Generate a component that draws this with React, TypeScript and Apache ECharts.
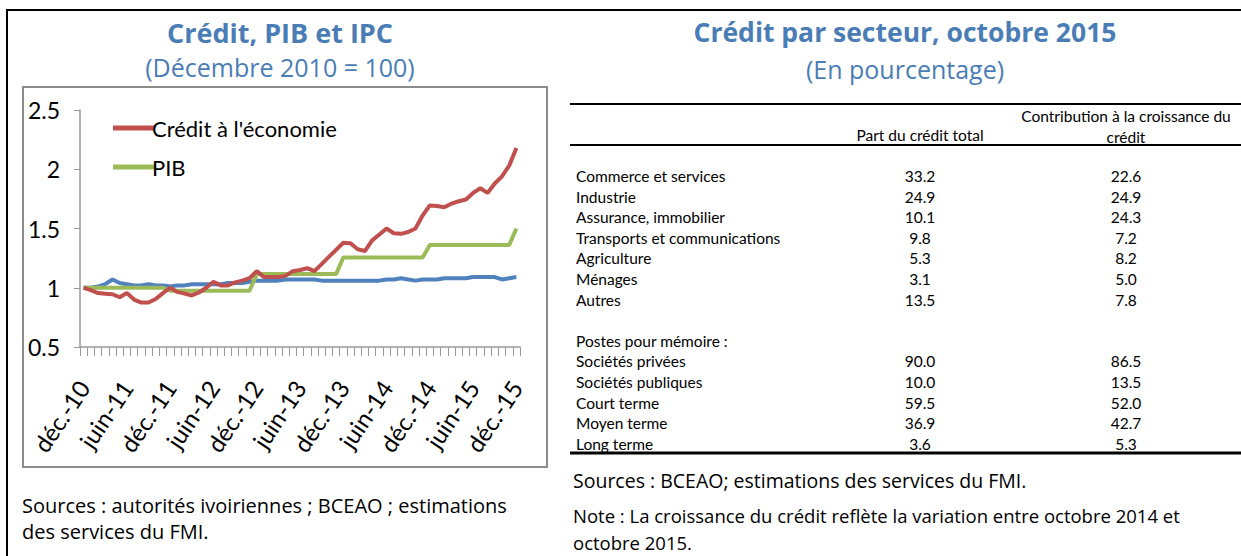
import React, { useEffect, useRef } from "react";
import * as echarts from "echarts";

// ---------- Chart data ----------
const monthNames = ["janv.", "févr.", "mars", "avr.", "mai", "juin", "juil.", "août", "sept.", "oct.", "nov.", "déc."];
const categories: string[] = ["déc.-10"];
for (const yy of ["11", "12", "13", "14", "15"]) {
  for (const m of monthNames) categories.push(`${m}-${yy}`);
}

const credit = [
  1.0, 0.98, 0.955, 0.95, 0.945, 0.92, 0.955, 0.9, 0.875, 0.875, 0.905, 0.955,
  1.0, 0.965, 0.95, 0.935, 0.96, 1.0, 1.05, 1.02, 1.02, 1.045, 1.06, 1.08,
  1.14, 1.09, 1.09, 1.09, 1.1, 1.14, 1.15, 1.165, 1.14, 1.2, 1.26, 1.32,
  1.38, 1.375, 1.325, 1.31, 1.4, 1.45, 1.5, 1.46, 1.455, 1.47, 1.5, 1.61,
  1.695, 1.69, 1.68, 1.71, 1.73, 1.745, 1.8, 1.84, 1.8, 1.88, 1.94, 2.03,
  2.18,
];

const pib = [
  1.0, 1.0, 1.0, 1.0, 1.0, 1.0, 1.0, 1.0, 1.0, 1.0, 1.0, 1.0,
  0.975, 0.975, 0.975, 0.975, 0.975, 0.975, 0.975, 0.975, 0.975, 0.975, 0.975, 0.975,
  1.115, 1.115, 1.115, 1.115, 1.115, 1.115, 1.115, 1.115, 1.115, 1.115, 1.115, 1.115,
  1.255, 1.255, 1.255, 1.255, 1.255, 1.255, 1.255, 1.255, 1.255, 1.255, 1.255, 1.255,
  1.36, 1.36, 1.36, 1.36, 1.36, 1.36, 1.36, 1.36, 1.36, 1.36, 1.36, 1.36,
  1.5,
];

const ipc = [
  1.0, 1.0, 1.01, 1.03, 1.07, 1.04, 1.03, 1.02, 1.02, 1.03, 1.02, 1.02,
  1.01, 1.02, 1.02, 1.03, 1.03, 1.03, 1.03, 1.03, 1.04, 1.04, 1.04, 1.05,
  1.06, 1.06, 1.06, 1.06, 1.07, 1.07, 1.07, 1.07, 1.07, 1.06, 1.06, 1.06,
  1.06, 1.06, 1.06, 1.06, 1.06, 1.06, 1.07, 1.07, 1.08, 1.07, 1.06, 1.07,
  1.07, 1.07, 1.08, 1.08, 1.08, 1.08, 1.09, 1.09, 1.09, 1.09, 1.07, 1.08,
  1.09,
];

const yTicks = { min: 0.5, max: 2.5, interval: 0.5 };

// ---------- Table data ----------
const colHeaders = ["Part du crédit total", "Contribution à la croissance du", "crédit"];
const sectorLabels = [
  "Commerce et services",
  "Industrie",
  "Assurance, immobilier",
  "Transports et communications",
  "Agriculture",
  "Ménages",
  "Autres",
];
const sectorPart = ["33.2", "24.9", "10.1", "9.8", "5.3", "3.1", "13.5"];
const sectorContrib = ["22.6", "24.9", "24.3", "7.2", "8.2", "5.0", "7.8"];
const memoTitle = "Postes pour mémoire :";
const memoLabels = ["Sociétés privées", "Sociétés publiques", "Court terme", "Moyen terme", "Long terme"];
const memoPart = ["90.0", "10.0", "59.5", "36.9", "3.6"];
const memoContrib = ["86.5", "13.5", "52.0", "42.7", "5.3"];

const titleColor = "#4a7db5";
const FONT = "Lato, 'Open Sans', sans-serif";
const FONT2 = "'Open Sans', Lato, sans-serif";

function txt(text: string, x: number, y: number, size: number, opts: any = {}) {
  return {
    type: "text",
    silent: true,
    style: {
      text,
      x,
      y,
      fontSize: size,
      fontFamily: opts.family || FONT,
      fontWeight: opts.weight || "normal",
      fill: opts.fill || "#000",
      textAlign: opts.align || "left",
      align: opts.align || "left",
      textVerticalAlign: "middle",
      verticalAlign: "middle",
    },
  };
}

export default function App() {
  const ref = useRef<HTMLDivElement>(null);

  useEffect(() => {
    if (!ref.current) return;
    const chart = echarts.init(ref.current, undefined, { renderer: "svg" });

    const graphics: any[] = [];
    // outer frame
    graphics.push({
      type: "polyline",
      silent: true,
      shape: { points: [[7, 556], [7, 10], [1241, 10]] },
      style: { stroke: "#000", lineWidth: 2, fill: "none" },
    });
    // chart box
    graphics.push({
      type: "rect",
      silent: true,
      shape: { x: 23, y: 87, width: 524, height: 380 },
      style: { stroke: "#8c8c8c", lineWidth: 2, fill: "none" },
    });
    // titles
    graphics.push(txt("Crédit, PIB et IPC", 280, 32, 27, { weight: "bold", fill: titleColor, align: "center", family: FONT2 }));
    graphics.push(txt("(Décembre 2010 = 100)", 280, 67, 25, { fill: titleColor, align: "center", family: FONT2 }));
    graphics.push(txt("Crédit par secteur, octobre 2015", 905, 32, 26.5, { weight: "bold", fill: titleColor, align: "center", family: FONT2 }));
    graphics.push(txt("(En pourcentage)", 905, 69, 25, { fill: titleColor, align: "center", family: FONT2 }));

    // table rules
    const rule = (y: number, w: number) => ({
      type: "line",
      silent: true,
      shape: { x1: 570, y1: y, x2: 1241, y2: y },
      style: { stroke: "#000", lineWidth: w },
    });
    graphics.push(rule(104, 2), rule(145, 2), rule(453, 3));

    const fs = 15.5;
    const c1 = 920;
    const c2 = 1126;
    graphics.push(txt(colHeaders[0], c1, 135, fs, { align: "center" }));
    graphics.push(txt(colHeaders[1], c2, 116, fs, { align: "center" }));
    graphics.push(txt(colHeaders[2], c2, 137, fs, { align: "center" }));

    const rowH = 20.6;
    sectorLabels.forEach((lab, i) => {
      const y = 176 + i * rowH;
      graphics.push(txt(lab, 576, y, fs));
      graphics.push(txt(sectorPart[i], c1, y, fs, { align: "center" }));
      graphics.push(txt(sectorContrib[i], c2, y, fs, { align: "center" }));
    });
    graphics.push(txt(memoTitle, 576, 176 + 8 * rowH, fs));
    memoLabels.forEach((lab, i) => {
      const y = 176 + (9 + i) * rowH;
      graphics.push(txt(lab, 576, y, fs));
      graphics.push(txt(memoPart[i], c1, y, fs, { align: "center" }));
      graphics.push(txt(memoContrib[i], c2, y, fs, { align: "center" }));
    });

    // footnotes
    const nf = 20;
    graphics.push(txt("Sources : autorités ivoiriennes ; BCEAO ; estimations", 22, 505, nf, { family: FONT2 }));
    graphics.push(txt("des services du FMI.", 22, 531, nf, { family: FONT2 }));
    graphics.push(txt("Sources : BCEAO; estimations des services du FMI.", 573, 480, 19.5, { family: FONT2 }));
    graphics.push(txt("Note : La croissance du crédit reflète la variation entre octobre 2014 et", 573, 515, 18.5, { family: FONT2 }));
    graphics.push(txt("octobre 2015.", 573, 542, 18.5, { family: FONT2 }));

    chart.setOption({
      animation: false,
      backgroundColor: "#fff",
      textStyle: { fontFamily: FONT },
      grid: { left: 80, top: 110, width: 440, height: 237, containLabel: false },
      legend: {
        show: true,
        data: ["Crédit à l'économie", "PIB"],
        orient: "vertical",
        left: 108,
        top: 111,
        itemWidth: 42,
        itemHeight: 5,
        itemGap: 15,
        icon: "rect",
        textStyle: { fontSize: 22, lineHeight: 24, color: "#000", fontFamily: FONT, padding: [0, 0, 0, -8] },
      },
      xAxis: {
        type: "category",
        data: categories,
        boundaryGap: true,
        axisLine: { lineStyle: { color: "#9a9a9a", width: 1.5 } },
        axisTick: { show: true, interval: 0, length: 9, lineStyle: { color: "#9a9a9a" } },
        axisLabel: {
          interval: 5,
          rotate: 56,
          margin: 36,
          fontSize: 24,
          color: "#000",
          fontFamily: FONT,
        },
        splitLine: { show: false },
      },
      yAxis: {
        type: "value",
        min: yTicks.min,
        max: yTicks.max,
        interval: yTicks.interval,
        axisLine: { show: true, lineStyle: { color: "#9a9a9a", width: 1.5 } },
        axisTick: { show: true, length: 6, lineStyle: { color: "#9a9a9a" } },
        axisLabel: { fontSize: 23, color: "#000", margin: 20, fontFamily: FONT },
        splitLine: { show: false },
      },
      series: [
        {
          name: "IPC",
          type: "line",
          data: ipc,
          symbol: "none",
          lineStyle: { color: "#4f81bd", width: 4 },
          itemStyle: { color: "#4f81bd" },
          z: 1,
        },
        {
          name: "PIB",
          type: "line",
          data: pib,
          symbol: "none",
          lineStyle: { color: "#9bbb59", width: 4 },
          itemStyle: { color: "#9bbb59" },
          z: 2,
        },
        {
          name: "Crédit à l'économie",
          type: "line",
          data: credit,
          symbol: "none",
          lineStyle: { color: "#c0504d", width: 4 },
          itemStyle: { color: "#c0504d" },
          z: 3,
        },
      ],
      graphic: graphics,
    });

    return () => chart.dispose();
  }, []);

  return (
    <div
      ref={ref}
      style={{ position: "absolute", left: 0, top: 0, width: 1241, height: 556, background: "#fff" }}
    />
  );
}
